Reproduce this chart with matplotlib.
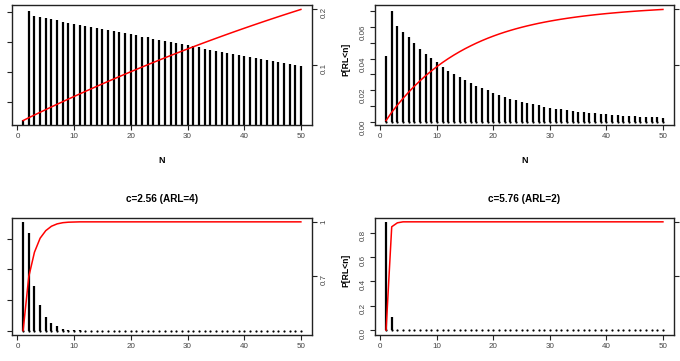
import numpy as np
import matplotlib
matplotlib.use("Agg")
import matplotlib.pyplot as plt

plt.rcParams["font.family"] = ["Liberation Sans", "DejaVu Sans"]

# run length n = 1..50
N = np.arange(1, 51)

# P[RL=n]
dens_tl = [0.0014, 0.00503, 0.00486, 0.00482, 0.00479, 0.00476, 0.00471, 0.00467, 0.00463, 0.00459,
           0.00456, 0.00452, 0.00449, 0.00445, 0.00441, 0.00438, 0.00435, 0.00431, 0.00428, 0.00425,
           0.00421, 0.00417, 0.00414, 0.00410, 0.00406, 0.00403, 0.00399, 0.00395, 0.00392, 0.00388,
           0.00384, 0.00381, 0.00377, 0.00373, 0.00370, 0.00366, 0.00363, 0.00360, 0.00356, 0.00353,
           0.00350, 0.00346, 0.00343, 0.00340, 0.00336, 0.00333, 0.00330, 0.00326, 0.00323, 0.00320]
dens_tr = [0.0414, 0.0702, 0.0608, 0.0570, 0.0533, 0.0497, 0.0462, 0.0432, 0.0403, 0.0376,
           0.0347, 0.0324, 0.0303, 0.0282, 0.0263, 0.0244, 0.0230, 0.0213, 0.0199, 0.0184,
           0.0172, 0.0159, 0.0148, 0.0138, 0.0128, 0.0119, 0.0111, 0.0105, 0.0096, 0.0090,
           0.0084, 0.0080, 0.0073, 0.0069, 0.0065, 0.0061, 0.0056, 0.0055, 0.0050, 0.0048,
           0.0044, 0.0042, 0.0040, 0.0038, 0.0036, 0.0034, 0.0031, 0.0029, 0.0029, 0.0028]
dens_bl = [0.355, 0.320, 0.145, 0.083, 0.045, 0.026, 0.014, 0.007, 0.003, 0.001, 0.001] + [0.0] * 39
dens_br = [0.890, 0.105, 0.004, 0.001] + [0.0] * 46

titles = [None, None, "c=2.56 (ARL=4)", "c=5.76 (ARL=2)"]
left_ylims = [(0.00122, 0.00522), (-0.0019, 0.0738), None, None]
left_steps = [0.001, 0.01, 0.1, 0.2]

# panel boxes in pixels: left, top, right, bottom
W, H = 680, 361
boxes = [(12, 5, 312, 125), (375, 5, 674, 125), (12, 217.5, 312, 335), (375, 217.5, 674, 334.5)]

fig = plt.figure(figsize=(W / 100, H / 100), dpi=100)


def rng(v):
    lo, hi = min(v), max(v)
    d = 0.04 * (hi - lo)
    return lo - d, hi + d


for i, (dens, box) in enumerate(zip([dens_tl, dens_tr, dens_bl, dens_br], boxes)):
    l, t, r, b = box
    ax = fig.add_axes([l / W, 1 - b / H, (r - l) / W, (b - t) / H])
    ax.vlines(N, 0, dens, colors="black", lw=1.6)
    # round end at the base, like R's type="h" (shows as a dot for zero bars)
    ax.plot(N, np.zeros(len(N)), "o", ms=1.6, mew=0, color="black")
    ax.set_xlim(-0.96, 51.96)
    ylim = left_ylims[i] or rng(dens)
    ax.set_ylim(*ylim)
    step = left_steps[i]
    ticks = np.round(np.arange(np.ceil(ylim[0] / step - 1e-9) * step, ylim[1], step), 6) + 0.0
    ax.set_yticks(ticks)
    if i == 1:
        ax.set_yticklabels([f"{abs(v):.2f}" if k % 2 == 0 else "" for k, v in enumerate(ticks)])
    elif i == 3:
        ax.set_yticklabels([f"{abs(v):.1f}" for v in ticks])
    else:
        ax.set_yticklabels([])
    ax.set_xticks(range(0, 51, 10))
    ax.tick_params(length=3.6, width=0.8, labelsize=5.8, pad=2.5, colors="#222222", labelcolor="#444444")
    ax.tick_params(axis="y", labelrotation=90)
    for s in ax.spines.values():
        s.set_linewidth(1.0)
        s.set_color("#222222")
    if i < 2:
        ax.set_xlabel("N", fontsize=6.5, fontweight="bold", labelpad=11)
    if titles[i]:
        ax.set_title(titles[i], fontsize=7.2, fontweight="bold", pad=11)

    cum = np.cumsum(dens)
    ax2 = ax.twinx()
    ax2.plot(N, cum, color="red", lw=1.1)
    ax2.set_ylim(*rng(cum))
    rt = [(cum.min() + cum.max()) / 2, cum.max()]
    ax2.set_yticks(rt)
    if i in (0, 2):
        ax2.set_yticklabels([f"{round(v, 1):g}" for v in rt])
    else:
        ax2.set_yticklabels([])
    ax2.tick_params(length=3.6, width=0.8, labelsize=5.8, pad=2.5, colors="#222222",
                    labelcolor="#444444", labelrotation=90)
    for s in ax2.spines.values():
        s.set_visible(False)
    if i in (0, 2):
        ax2.set_ylabel("P[RL<n]", fontsize=6.2, fontweight="bold")
        ax2.yaxis.set_label_coords((341 - l) / (r - l), 0.55)

fig.savefig("out.png", dpi=100)
